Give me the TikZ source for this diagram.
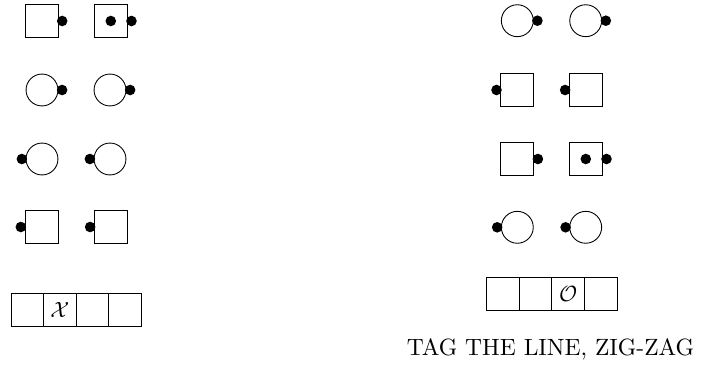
\documentclass[tikz,border=0pt]{standalone}
\usetikzlibrary{positioning}

\begin{document}
\begin{tikzpicture}[
  x=0.4545pt, y=-0.4545pt,
  font=\normalsize,
  node distance=0pt,
  cell/.style={draw, rectangle, minimum size=15pt, inner sep=0pt, outer sep=0pt},
  ring/.style={draw, circle, minimum size=14.5pt, inner sep=0pt, outer sep=0pt},
  pin/.style={fill, circle, minimum size=4.8pt, inner sep=0pt},
  pinR/.style={pin, xshift=1.9pt},
  pinL/.style={pin, xshift=-1.9pt}
]
  \useasboundingbox (0,0) rectangle (701,368);

  % Left column
  \node[cell] (la1) at (41.5,21) {};
  \node[cell] (lb1) at (110.8,21) {};
  \node[pinR] (pla1) at (la1.east) {};
  \node[pin] (clb1) at (lb1.center) {};
  \node[pinR] (plb1) at (lb1.east) {};

  \node[ring] (la2) at (42,90) {};
  \node[ring] (lb2) at (110,90) {};
  \node[pinR] (pla2) at (la2.east) {};
  \node[pinR] (plb2) at (lb2.east) {};

  \node[ring] (la3) at (42,159) {};
  \node[ring] (lb3) at (110,159) {};
  \node[pinL] (pla3) at (la3.west) {};
  \node[pinL] (plb3) at (lb3.west) {};

  \node[cell] (la4) at (41.5,227) {};
  \node[cell] (lb4) at (110.8,227) {};
  \node[pinL] (pla4) at (la4.west) {};
  \node[pinL] (plb4) at (lb4.west) {};

  \node[cell, minimum width=14.8pt] (lrow1) at (27.25,309.7) {};
  \node[cell, minimum width=14.8pt, right=of lrow1] (lrow2) {$\mathcal{X}$};
  \node[cell, minimum width=14.8pt, right=of lrow2] (lrow3) {};
  \node[cell, minimum width=14.8pt, right=of lrow3] (lrow4) {};

  % Right column
  \node[ring] (ra1) at (517.3,20.7) {};
  \node[ring] (rb1) at (585.7,20.7) {};
  \node[pinR] (pra1) at (ra1.east) {};
  \node[pinR] (prb1) at (rb1.east) {};

  \node[cell] (ra2) at (517.2,90) {};
  \node[cell] (rb2) at (585.8,90) {};
  \node[pinL] (pra2) at (ra2.west) {};
  \node[pinL] (prb2) at (rb2.west) {};

  \node[cell] (ra3) at (517.2,159) {};
  \node[cell] (rb3) at (585.8,159) {};
  \node[pinR] (pra3) at (ra3.east) {};
  \node[pin] (crb3) at (rb3.center) {};
  \node[pinR] (prb3) at (rb3.east) {};

  \node[ring] (ra4) at (517.3,227.3) {};
  \node[ring] (rb4) at (585.7,227.3) {};
  \node[pinL] (pra4) at (ra4.west) {};
  \node[pinL] (prb4) at (rb4.west) {};

  \node[cell, minimum width=14.8pt] (rrow1) at (503,294) {};
  \node[cell, minimum width=14.8pt, right=of rrow1] (rrow2) {};
  \node[cell, minimum width=14.8pt, right=of rrow2] (rrow3) {$\mathcal{O}$};
  \node[cell, minimum width=14.8pt, right=of rrow3] (rrow4) {};

  \node[font=\fontsize{10.7pt}{13pt}\selectfont] (tag) at (550.5,349) {TAG THE LINE, ZIG-ZAG};

\end{tikzpicture}
\end{document}
